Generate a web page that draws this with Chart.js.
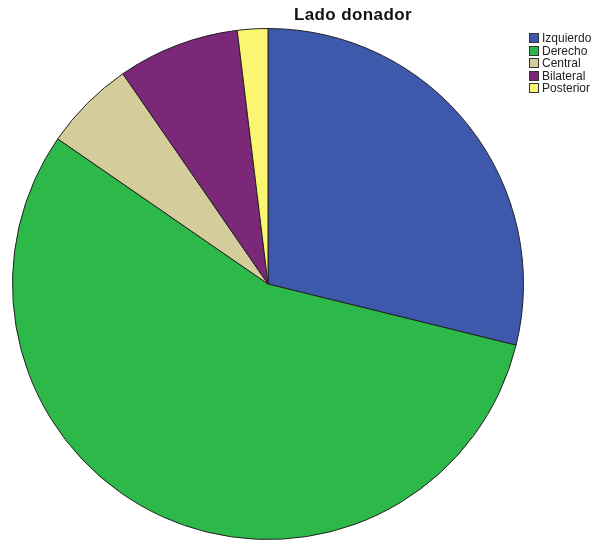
<!DOCTYPE html>
<html>
<head>
    <title>Lado donador</title>
    <style>
        body {
            margin: 0;
            padding: 0;
            background-color: #fff;
            font-family: Arial, "Liberation Sans", sans-serif;
        }

        .wrap {
            position: relative;
            width: 591px;
            height: 542px;
        }

        .titulo {
            position: absolute;
            left: 253px;
            width: 200px;
            top: 5px;
            text-align: center;
            font-weight: bold;
            font-size: 17px;
            letter-spacing: 0.4px;
            color: #111;
        }

        .leyenda {
            position: absolute;
            left: 529px;
            top: 32px;
            font-size: 12px;
            color: #222;
        }

        .leyenda div {
            height: 12.5px;
            line-height: 13px;
            white-space: nowrap;
        }

        .leyenda span {
            display: inline-block;
            width: 8px;
            height: 8px;
            border: 1px solid #333;
            margin-right: 3px;
            vertical-align: -1px;
        }
    </style>
</head>
<body>
<div class="wrap">
    <canvas id="pieChart" width="591" height="542"></canvas>
    <div class="titulo">Lado donador</div>
    <div class="leyenda" id="leyenda"></div>
</div>

<script src="https://cdn.jsdelivr.net/npm/chart.js@4.4.1/dist/chart.umd.min.js"></script>
<script>
    const categorias = ['Izquierdo', 'Derecho', 'Central', 'Bilateral', 'Posterior'];
    const casos = [15, 29, 3, 4, 1];
    const colores = ['#3e58ac', '#2db84a', '#d4cc9a', '#7b2879', '#faf671'];

    // leyenda a la derecha
    const leyenda = document.getElementById('leyenda');
    categorias.forEach((cat, i) => {
        const fila = document.createElement('div');
        const caja = document.createElement('span');
        caja.style.backgroundColor = colores[i];
        fila.appendChild(caja);
        fila.appendChild(document.createTextNode(cat));
        leyenda.appendChild(fila);
    });

    new Chart(document.getElementById('pieChart'), {
        type: 'pie',
        data: {
            labels: categorias,
            datasets: [{
                data: casos,
                backgroundColor: colores,
                borderColor: '#222',
                borderWidth: 1
            }]
        },
        options: {
            responsive: false,
            animation: false,
            layout: {
                padding: { left: 12, right: 67, top: 28, bottom: 2 }
            },
            plugins: {
                legend: { display: false },
                tooltip: { enabled: false }
            }
        }
    });
</script>
</body>
</html>
